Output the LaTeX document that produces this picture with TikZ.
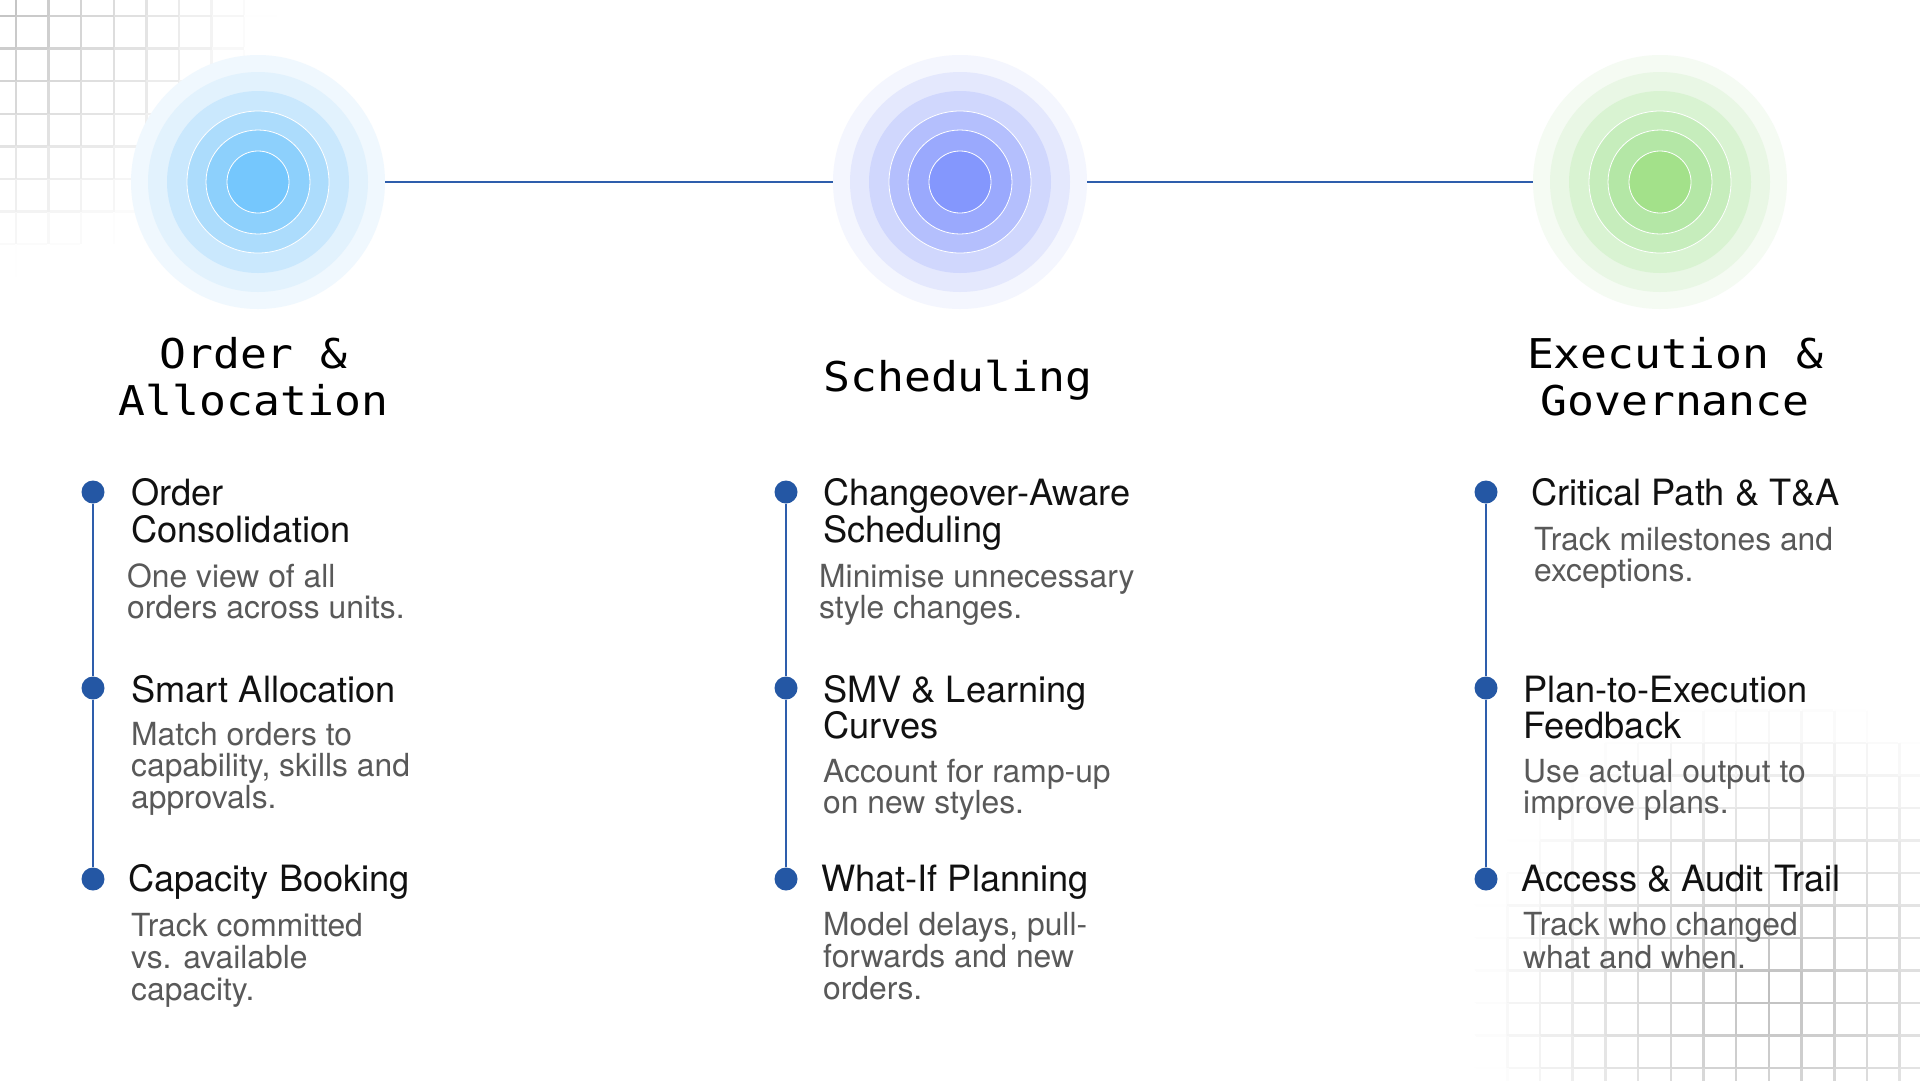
\documentclass[tikz,border=0pt]{standalone}
\usepackage{fontspec}
\setmainfont{TeX Gyre Heros}
\newfontfamily\titlefont[FakeStretch=1.09]{DejaVu Sans Mono}

\definecolor{headc}{HTML}{111111}
\definecolor{descc}{HTML}{595959}
\definecolor{dotc}{HTML}{2457A4}
\definecolor{linec}{HTML}{2E5EAC}
\definecolor{gridc}{RGB}{160,160,160}
% blue rings
\definecolor{bA}{HTML}{F0F8FE}\definecolor{bB}{HTML}{E2F2FD}\definecolor{bC}{HTML}{CAE8FD}
\definecolor{bD}{HTML}{ACDCFC}\definecolor{bE}{HTML}{8DD0FC}\definecolor{bF}{HTML}{75C7FD}
% indigo rings
\definecolor{iA}{HTML}{F4F6FE}\definecolor{iB}{HTML}{E4E8FD}\definecolor{iC}{HTML}{D0D7FD}
\definecolor{iD}{HTML}{B4BFFD}\definecolor{iE}{HTML}{9AA9FD}\definecolor{iF}{HTML}{8497FD}
% green rings
\definecolor{gA}{HTML}{F5FBF3}\definecolor{gB}{HTML}{E9F7E5}\definecolor{gC}{HTML}{D9F3D2}
\definecolor{gD}{HTML}{C6EDBC}\definecolor{gE}{HTML}{B4E7A6}\definecolor{gF}{HTML}{A3E18A}

\newcommand\LStack[2]{\vtop{\baselineskip=#1\lineskiplimit=-1000pt\lineskip=0pt\halign{##\hfil\cr#2\cr}}}
\newcommand\CStack[2]{\vtop{\baselineskip=#1\lineskiplimit=-1000pt\lineskip=0pt\halign{\hfil##\hfil\cr#2\cr}}}

\tikzset{
  hdtext/.style={anchor=base west, inner sep=0pt, text=headc, font=\fontsize{36.2}{37}\selectfont},
  dstext/.style={anchor=base west, inner sep=0pt, text=descc, font=\fontsize{31.8}{32}\selectfont},
  ttltext/.style={anchor=base, inner sep=0pt, text=black, font=\titlefont\fontsize{41}{47}\selectfont},
  bdot/.style={circle, fill=dotc, minimum size=23pt, inner sep=0pt},
  tline/.style={draw=linec, line width=2pt},
  hub/.style={circle, minimum size=254pt, inner sep=0pt},
}

\newcommand\Rings[7]{%
  \fill[#2] (#1) circle[radius=127pt];
  \fill[#3] (#1) circle[radius=110pt];
  \fill[#4] (#1) circle[radius=91pt];
  \filldraw[fill=#5, draw=white, line width=0.8pt] (#1) circle[radius=71pt];
  \filldraw[fill=#6, draw=white, line width=0.8pt] (#1) circle[radius=52pt];
  \filldraw[fill=#7, draw=white, line width=0.8pt] (#1) circle[radius=31pt];
}

\begin{document}
\begin{tikzpicture}[x=1pt,y=-1pt]
\useasboundingbox (0,0) rectangle (1920,1080);
\fill[white] (0,0) rectangle (1920,1080);

% top-left grid
\foreach \i in {-1,...,8}{
  \foreach \j in {-1,...,8}{
    \pgfmathsetmacro\xa{16+32.6*\i}
    \pgfmathsetmacro\xb{\xa+32.6}
    \pgfmathsetmacro\yy{16+32.6*\j}
    \pgfmathsetmacro\ph{65*max(0,1-veclen(\xa+16.3,\yy)/265)}
    \pgfmathsetmacro\pv{65*max(0,1-veclen(\yy,\xa+16.3)/265)}
    \draw[color=gridc!\ph!white, line width=2.5pt] (\xa,\yy) -- (\xb,\yy);
    \draw[color=gridc!\pv!white, line width=2.5pt] (\yy,\xa) -- (\yy,\xb);
  }
}
% bottom-right grid
\foreach \i in {-4,...,12}{
  \foreach \j in {-3,...,11}{
    \pgfmathsetmacro\xa{1540+32.7*\i}
    \pgfmathsetmacro\xb{\xa+32.7}
    \pgfmathsetmacro\ya{743+32.5*\j}
    \pgfmathsetmacro\yb{\ya+32.5}
    \pgfmathsetmacro\ph{68*max(0,1-veclen(\xa+16.3-1770,\ya-990)/295)}
    \pgfmathsetmacro\pv{68*max(0,1-veclen(\xa-1770,\ya+16.3-990)/295)}
    \draw[color=gridc!\ph!white, line width=2.5pt] (\xa,\ya) -- (\xb,\ya);
    \draw[color=gridc!\pv!white, line width=2.5pt] (\xa,\ya) -- (\xa,\yb);
  }
}

% hubs
\Rings{258,182}{bA}{bB}{bC}{bD}{bE}{bF}
\Rings{960,182}{iA}{iB}{iC}{iD}{iE}{iF}
\Rings{1660,182}{gA}{gB}{gC}{gD}{gE}{gF}
\node[hub] (hubA) at (258,182) {};
\node[hub] (hubB) at (960,182) {};
\node[hub] (hubC) at (1660,182) {};
\draw[tline] (hubA) -- (hubB);
\draw[tline] (hubB) -- (hubC);

% titles
\node[ttltext] (t1) at (253.5,368) {\CStack{47pt}{Order \&\cr Allocation}};
\node[ttltext] (t2) at (958,391) {Scheduling};
\node[ttltext] (t3) at (1675,368) {\CStack{47pt}{Execution \&\cr Governance}};

% left column
\node[bdot] (a1) at (93,492) {};
\node[bdot] (a2) at (93,688) {};
\node[bdot] (a3) at (93,879) {};
\draw[tline] (a1) -- (a2);
\draw[tline] (a2) -- (a3);
\node[hdtext] (a1h) at (131,505) {\LStack{37pt}{Order\cr Consolidation}};
\node[dstext] (a1d) at (127,587) {\LStack{31pt}{One view of all\cr orders across units.}};
\node[hdtext] (a2h) at (131,702) {Smart Allocation};
\node[dstext] (a2d) at (131,745) {\LStack{31.5pt}{Match orders to\cr capability, skills and\cr approvals.}};
\node[hdtext] (a3h) at (128,891) {Capacity Booking};
\node[dstext] (a3d) at (131,936) {\LStack{32pt}{Track committed\cr vs. available\cr capacity.}};

% middle column
\node[bdot] (b1) at (786,492) {};
\node[bdot] (b2) at (786,688) {};
\node[bdot] (b3) at (786,879) {};
\draw[tline] (b1) -- (b2);
\draw[tline] (b2) -- (b3);
\node[hdtext] (b1h) at (823,505) {\LStack{37pt}{Changeover-Aware\cr Scheduling}};
\node[dstext] (b1d) at (819,587) {\LStack{31pt}{Minimise unnecessary\cr style changes.}};
\node[hdtext] (b2h) at (823,702) {\LStack{36pt}{SMV \& Learning\cr Curves}};
\node[dstext] (b2d) at (823,782) {\LStack{31pt}{Account for ramp-up\cr on new styles.}};
\node[hdtext] (b3h) at (821,891) {What-If Planning};
\node[dstext] (b3d) at (823,935) {\LStack{32pt}{Model delays, pull-\cr forwards and new\cr orders.}};

% right column
\node[bdot] (c1) at (1486,492) {};
\node[bdot] (c2) at (1486,688) {};
\node[bdot] (c3) at (1486,879) {};
\draw[tline] (c1) -- (c2);
\draw[tline] (c2) -- (c3);
\node[hdtext] (c1h) at (1531,505) {Critical Path \& T\&A};
\node[dstext] (c1d) at (1534,550) {\LStack{31pt}{Track milestones and\cr exceptions.}};
\node[hdtext] (c2h) at (1523,702) {\LStack{36pt}{Plan-to-Execution\cr Feedback}};
\node[dstext] (c2d) at (1523,782) {\LStack{31pt}{Use actual output to\cr improve plans.}};
\node[hdtext] (c3h) at (1521,891) {Access \& Audit Trail};
\node[dstext] (c3d) at (1523,935) {\LStack{33pt}{Track who changed\cr what and when.}};
\end{tikzpicture}
\end{document}
